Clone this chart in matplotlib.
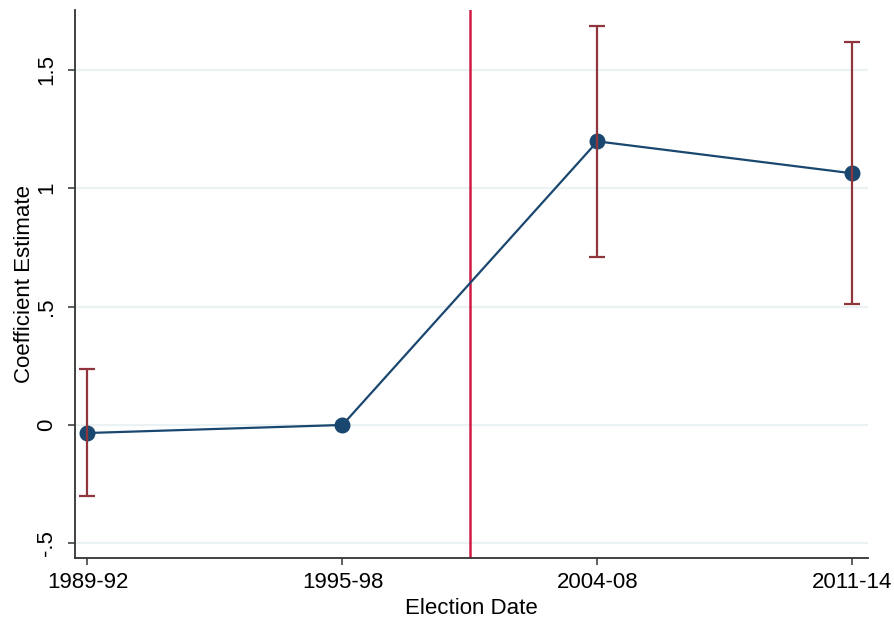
import matplotlib
matplotlib.use("Agg")
import matplotlib.pyplot as plt
import numpy as np

plt.rcParams['font.family'] = ['Liberation Sans', 'DejaVu Sans']

categories = ["1989-92", "1995-98", "2004-08", "2011-14"]
estimates = [-0.034, 0.0, 1.198, 1.063]
ci_low = [-0.300, None, 0.709, 0.510]
ci_high = [0.236, None, 1.684, 1.616]
yticks = [-0.5, 0, 0.5, 1, 1.5]
ytick_labels = ["-.5", "0", ".5", "1", "1.5"]
break_position = 1.5

fig = plt.figure(figsize=(8.94, 6.19), dpi=100)
ax = fig.add_axes([75/894, 1-558/619, (868-75)/894, (558-10)/619])

x = np.arange(len(categories))
navy = "#1a476f"
maroon = "#90353b"

for yt in yticks:
    ax.axhline(yt, color="#eaf2f3", lw=1.6, zorder=0)

ax.axvline(break_position, color="#d01c45", lw=1.8, zorder=1)

ax.plot(x, estimates, color=navy, lw=1.6, marker="o", ms=10.5, zorder=3)

ex, ey, elo, ehi = [], [], [], []
for i, (e, lo, hi) in enumerate(zip(estimates, ci_low, ci_high)):
    if lo is None:
        continue
    ex.append(x[i]); ey.append(e); elo.append(e - lo); ehi.append(hi - e)
ax.errorbar(ex, ey, yerr=[elo, ehi], fmt="none", ecolor=maroon, elinewidth=1.6,
            capsize=5.5, capthick=1.6, zorder=4)

ax.set_xlim(-0.049, 3.061)
ax.set_ylim(-0.562, 1.753)
ax.set_xticks(x)
ax.set_xticklabels(categories, fontsize=16)
ax.set_yticks(yticks)
ax.set_yticklabels(ytick_labels, fontsize=16, rotation=90, va="center")

for s in ["top", "right"]:
    ax.spines[s].set_visible(False)
for s in ["left", "bottom"]:
    ax.spines[s].set_color("#333333")
    ax.spines[s].set_linewidth(1.3)
ax.tick_params(axis="x", direction="out", length=5, width=1.1, color="#333333", pad=5)
ax.tick_params(axis="y", direction="out", length=5, width=1.1, color="#333333", pad=8)

ax.set_xlabel("Election Date", fontsize=16, labelpad=4)
ax.set_ylabel("Coefficient Estimate", fontsize=16, labelpad=1)

fig.savefig("out.png", dpi=100)
